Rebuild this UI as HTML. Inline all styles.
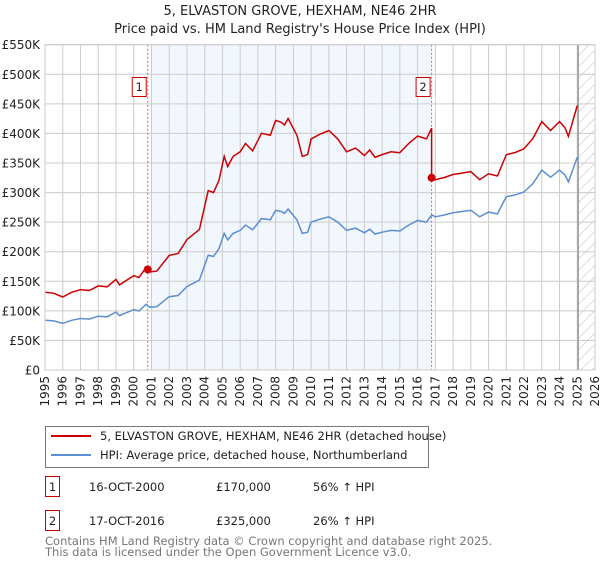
<!DOCTYPE html>
<html><head><meta charset="utf-8"><style>
body{margin:0;background:#fff;font-family:"DejaVu Sans","Liberation Sans",sans-serif;}
svg text{font-family:"DejaVu Sans","Liberation Sans",sans-serif;}
</style></head><body>
<svg id="chart" width="600" height="560" xmlns="http://www.w3.org/2000/svg">
<text x="300" y="15" text-anchor="middle" font-size="13" fill="#222">5, ELVASTON GROVE, HEXHAM, NE46 2HR</text>
<text x="300" y="33" text-anchor="middle" font-size="13" fill="#222">Price paid vs. HM Land Registry's House Price Index (HPI)</text>
<defs><pattern id="hatch" patternUnits="userSpaceOnUse" width="8" height="8" patternTransform="rotate(45)"><line x1="0" y1="0" x2="0" y2="8" stroke="#bbb" stroke-width="1"/></pattern></defs>
<g id="plot"></g>
<g>
<rect x="45.5" y="426.5" width="383" height="41" fill="#fff" stroke="#777"/>
<line x1="51" y1="436" x2="91" y2="436" stroke="#cc0000" stroke-width="2"/>
<text x="100" y="440" font-size="11.5" fill="#222">5, ELVASTON GROVE, HEXHAM, NE46 2HR (detached house)</text>
<line x1="51" y1="455" x2="91" y2="455" stroke="#5b8fd0" stroke-width="2"/>
<text x="100" y="459" font-size="11.5" fill="#222">HPI: Average price, detached house, Northumberland</text>
</g>
<g font-size="11.5" fill="#222">
<rect x="45.5" y="476.5" width="14" height="20" fill="#fff" stroke="#cc0000"/>
<text x="52.5" y="491" text-anchor="middle">1</text>
<text x="89" y="491">16-OCT-2000</text><text x="216" y="491">£170,000</text><text x="313" y="491">56% ↑ HPI</text>
</g>
<g font-size="11.5" fill="#222">
<rect x="45.5" y="510.5" width="14" height="20" fill="#fff" stroke="#cc0000"/>
<text x="52.5" y="525" text-anchor="middle">2</text>
<text x="89" y="525">17-OCT-2016</text><text x="216" y="525">£325,000</text><text x="313" y="525">26% ↑ HPI</text>
</g>
<text x="45" y="545" font-size="11.5" fill="#777">Contains HM Land Registry data © Crown copyright and database right 2025.</text>
<text x="45" y="556" font-size="11.5" fill="#777">This data is licensed under the Open Government Licence v3.0.</text>
</svg>
<script>
const yTicks=[0,50,100,150,200,250,300,350,400,450,500,550];
const yTickLabels=["£0","£50K","£100K","£150K","£200K","£250K","£300K","£350K","£400K","£450K","£500K","£550K"];
const xYears=[1995,1996,1997,1998,1999,2000,2001,2002,2003,2004,2005,2006,2007,2008,2009,2010,2011,2012,2013,2014,2015,2016,2017,2018,2019,2020,2021,2022,2023,2024,2025,2026];
const hpiDates=[1995,1995.5,1996,1996.5,1997,1997.5,1998,1998.5,1999,1999.2,1999.6,2000,2000.3,2000.7,2000.9,2001.3,2002,2002.5,2003,2003.7,2004.2,2004.5,2004.8,2005.1,2005.3,2005.6,2006,2006.3,2006.7,2007.2,2007.7,2008,2008.3,2008.5,2008.7,2009.2,2009.5,2009.8,2010,2010.5,2011,2011.5,2012,2012.5,2013,2013.3,2013.6,2014,2014.5,2015,2015.5,2016,2016.5,2016.8,2017,2017.5,2018,2018.5,2019,2019.5,2020,2020.5,2021,2021.5,2022,2022.5,2023,2023.5,2024,2024.3,2024.5,2025];
const hpiValues=[84,83,79,84,87,86,91,90,98,92,97,102,100,111,106,107,124,126,141,152,194,192,205,231,220,231,236,245,237,256,254,270,268,265,272,254,231,233,250,255,259,250,236,240,232,238,230,233,236,235,245,253,250,262,259,262,266,268,270,259,267,264,293,296,301,315,338,326,338,330,318,360];
const saleDates=[2000.79,2016.79];
const salePrices=[170,325];
const saleLabels=["1","2"];
const shadeRange=[2001.0,2016.79];
const hatchStart=2025.05;

const L=45,R=595,T=44.7,B=370;
const xs=y=>L+(y-1995)/(2026-1995)*(R-L);
const ys=v=>B-v/550*(B-T);
const NS="http://www.w3.org/2000/svg";
const g=document.getElementById('plot');
function mk(tag,attrs){const e=document.createElementNS(NS,tag);for(const k in attrs)e.setAttribute(k,attrs[k]);g.appendChild(e);return e;}
function hpiAt(t){for(let i=1;i<hpiDates.length;i++){if(t<=hpiDates[i]){const f=(t-hpiDates[i-1])/(hpiDates[i]-hpiDates[i-1]);return hpiValues[i-1]+f*(hpiValues[i]-hpiValues[i-1]);}}return hpiValues[hpiValues.length-1];}

let e=mk('rect',{x:xs(shadeRange[0]),y:T,width:xs(shadeRange[1])-xs(shadeRange[0]),height:B-T,fill:'#f2f6fd'});


e=mk('rect',{x:xs(hatchStart),y:T,width:R-xs(hatchStart),height:B-T,fill:'url(#hatch)'});


xYears.forEach(yr=>{
  const l=mk('line',{x1:xs(yr),x2:xs(yr),y1:T,y2:B,stroke:'#ccc','stroke-width':1});
  
  
  const t=mk('text',{x:0,y:0,'font-size':12,fill:'#222','text-anchor':'end',transform:`translate(${xs(yr)+4},${B+6}) rotate(-90)`});
  t.textContent=yr;
  
  
});
yTicks.forEach((v,i)=>{
  const l=mk('line',{x1:L,x2:R,y1:ys(v),y2:ys(v),stroke:'#ccc','stroke-width':1});
  
  
  const t=mk('text',{x:L-5,y:ys(v)+4.5,'font-size':12,fill:'#222','text-anchor':'end'});
  t.textContent=yTickLabels[i];
  
  
});
e=mk('line',{x1:xs(hatchStart),x2:xs(hatchStart),y1:T,y2:B,stroke:'#999','stroke-width':1.5});


saleDates.forEach((d,i)=>{
  const l=mk('line',{x1:xs(d),x2:xs(d),y1:T,y2:B,stroke:'#e06060','stroke-width':1,'stroke-dasharray':'2,2'});
  
  
});
// HPI line
let pts=hpiDates.map((d,i)=>xs(d).toFixed(1)+','+ys(hpiValues[i]).toFixed(1)).join(' ');
e=mk('polyline',{points:pts,fill:'none',stroke:'#5b8fd0','stroke-width':1.5});


// Property price line: indexed from sales
function priceAt(t){let k=0;for(let i=0;i<saleDates.length;i++)if(t>=saleDates[i])k=i;return salePrices[k]*hpiAt(t)/hpiAt(saleDates[k]);}
let times=hpiDates.slice();saleDates.forEach(d=>{times.push(d-0.001);times.push(d);});times.sort((a,b)=>a-b);
pts=times.map(t=>xs(t).toFixed(1)+','+ys(priceAt(t)).toFixed(1)).join(' ');
e=mk('polyline',{points:pts,fill:'none',stroke:'#cc0000','stroke-width':1.5});


saleDates.forEach((d,i)=>{
  const c=mk('circle',{cx:xs(d),cy:ys(salePrices[i]),r:4,fill:'#cc0000'});
  
  
  const bx=xs(d)-15;
  const r=mk('rect',{x:bx-0.5,y:77.5,width:14,height:19,fill:'#fff',stroke:'#cc0000'});
  
  
  const t=mk('text',{x:bx+6.5,y:91,'font-size':11.5,fill:'#222','text-anchor':'middle'});
  t.textContent=saleLabels[i];
  
  
});
e=mk('rect',{x:L,y:T,width:R-L,height:B-T,fill:'none',stroke:'#ccc'});


</script>
</body></html>
